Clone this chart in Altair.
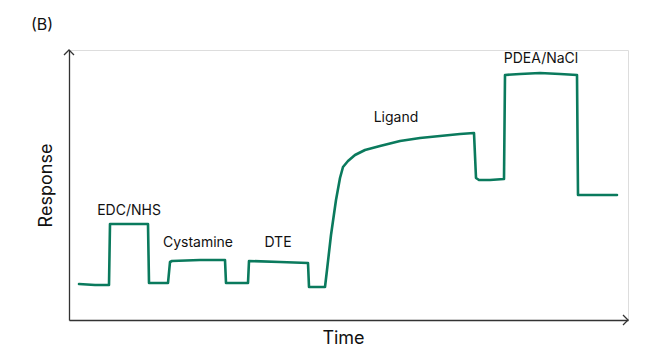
import altair as alt
import pandas as pd

# Sensorgram trace (time, response) in arbitrary units
time = [10, 26, 40, 41, 61, 79, 80, 99, 101, 103, 131, 156, 157, 179, 180, 211, 239, 240, 256,
        258, 262, 267, 271, 274, 279, 286, 296, 311, 331, 351, 371, 391, 405, 407, 410, 421, 435,
        436, 451, 471, 491, 508, 509, 531, 548]
response = [36, 35, 35, 96, 96, 96, 37, 37, 58, 59, 60, 60, 37, 37, 59, 58, 57, 33, 33,
            50, 85, 120, 142, 153, 159, 165, 170, 174, 179, 182, 184, 186, 187, 142, 140, 140, 141,
            245, 246, 247, 246, 245, 125, 125, 125]

labels = ["EDC/NHS", "Cystamine", "DTE", "Ligand", "PDEA/NaCl"]
label_t = [60, 129, 209, 327, 472]
label_r = [109, 77, 77, 202, 261]

X_MAX = 559
Y_MAX = 270

trace = pd.DataFrame({"t": time, "r": response})
ann = pd.DataFrame({"label": labels, "t": label_t, "r": label_r})

FONT = "Inter"
xs = alt.Scale(domain=[0, X_MAX], nice=False, zero=False)
ys = alt.Scale(domain=[0, Y_MAX], nice=False, zero=False)

line = alt.Chart(trace).mark_line(
    color="#0a7a5d", strokeWidth=2.6, strokeJoin="round", strokeCap="round"
).encode(
    x=alt.X("t:Q", scale=xs, axis=alt.Axis(title="Time", ticks=False, labels=False, grid=False,
                                           domainColor="#333333", domainWidth=1.3,
                                           titleFontSize=18, titleFontWeight="normal",
                                           titleFont=FONT, titleColor="#111111", titlePadding=9,
                                           titleX=274)),
    y=alt.Y("r:Q", scale=ys, axis=alt.Axis(title="Response", ticks=False, labels=False, grid=False,
                                           domainColor="#333333", domainWidth=1.3,
                                           titleFontSize=18, titleFontWeight="normal",
                                           titleFont=FONT, titleColor="#111111", titlePadding=14)),
    order="idx:Q",
).transform_window(idx="row_number()")

text = alt.Chart(ann).mark_text(
    font=FONT, fontSize=14, color="#111111", baseline="middle", align="center"
).encode(x=alt.X("t:Q", scale=xs), y=alt.Y("r:Q", scale=ys), text="label:N")

arrow_x = alt.Chart(pd.DataFrame({"t": [X_MAX], "r": [0]})).mark_point(
    shape="M-1,-1L0,0L-1,1", size=100, filled=False, stroke="#333333", strokeWidth=1.3, opacity=1
).encode(x=alt.X("t:Q", scale=xs), y=alt.Y("r:Q", scale=ys))

arrow_y = alt.Chart(pd.DataFrame({"t": [0], "r": [Y_MAX]})).mark_point(
    shape="M-1,1L0,0L1,1", size=100, filled=False, stroke="#333333", strokeWidth=1.3, opacity=1
).encode(x=alt.X("t:Q", scale=xs), y=alt.Y("r:Q", scale=ys))

panel = alt.Chart(pd.DataFrame({"label": ["(B)"]})).mark_text(
    font=FONT, fontSize=16, color="#111111", align="left", baseline="middle"
).encode(x=alt.value(-38), y=alt.value(-25), text="label:N")

chart = alt.layer(line, text, arrow_x, arrow_y, panel).properties(
    width=X_MAX, height=Y_MAX,
    autosize=alt.AutoSizeParams(type="none"),
    padding={"left": 61, "top": 42, "right": 30, "bottom": 32},
).configure_view(stroke=None).configure(background="white")

chart.save("out.html", embed_options={"renderer": "svg", "actions": False})
